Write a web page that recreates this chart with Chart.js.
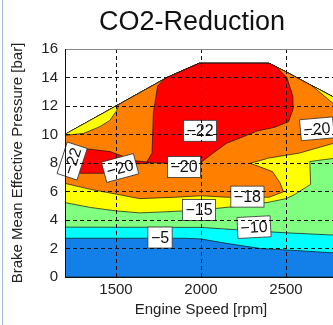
<!DOCTYPE html>
<html>
<head>
<meta charset="utf-8">
<script src="https://cdn.jsdelivr.net/npm/chart.js@4/dist/chart.umd.min.js"></script>
<style>
  html, body { margin: 0; padding: 0; background: #fff; overflow: hidden; }
  #wrap { position: relative; width: 337px; height: 325px; }
  #title { position: absolute; left: 0; top: 6px; width: 384px; text-align: center;
           font: 27px "Liberation Sans", Arial, sans-serif; color: #111; line-height: 30px; }
  #edge { position: absolute; left: 2px; top: 0; width: 1px; height: 325px; background: #9dbde3; }
</style>
</head>
<body>
<div id="wrap">
  <canvas id="chart" width="337" height="325"></canvas>
  <div id="title">CO2-Reduction</div>
  <div id="edge"></div>
</div>
<script>
// axis ticks
const xTicks = [1500, 2000, 2500];
const yTicks = [0, 2, 4, 6, 8, 10, 12, 14, 16];

// full load line (rpm, bar)
const envelope = [[1200, 10.0], [1500, 12.0], [1800, 14.0], [1990, 15.0], [2400, 15.0], [2500, 14.4], [2640, 13.5], [2800, 12.5]];

// upper edge of each band
const blueTop = [[1200, 2.72], [1900, 2.72], [2000, 2.67], [2150, 2.36], [2350, 2.0], [2500, 1.9], [2800, 1.68]];
const cyanTop = [[1200, 3.5], [2000, 3.48], [2230, 3.3], [2500, 3.1], [2800, 2.93]];
const greenTop = [[1200, 5.22], [1350, 4.88], [1500, 4.64], [1640, 4.5], [1800, 4.58], [2000, 4.7], [2200, 4.95],
                  [2400, 5.25], [2500, 5.5], [2545, 5.75], [2645, 6.5], [2640, 8.1], [2700, 8.2], [2800, 8.35]];
const yellowTop = [[1200, 6.57], [1350, 6.15], [1500, 5.82], [1640, 5.5], [1850, 5.6], [2000, 5.7], [2150, 5.6],
                   [2400, 5.6], [2485, 5.98], [2465, 6.6], [2420, 7.4], [2290, 7.98], [2400, 8.35], [2580, 8.7], [2800, 9.45]];

// closed patches on top
const yellowLeft = [[1200, 10.02], [1500, 12.0], [1515, 12.1], [1505, 11.7], [1465, 11.0], [1405, 10.55], [1310, 10.08], [1200, 9.93]];
const yellowRight = [[2650, 13.45], [2800, 12.5], [2800, 11.95]];
const redMain = [[1680, 8.05], [1712, 8.7], [1720, 11.5], [1745, 13.4], [1785, 13.9], [1800, 14.0], [1990, 15.0], [2400, 15.0],
                 [2440, 14.78], [2505, 14.0], [2540, 12.7], [2542, 11.8], [2515, 10.9], [2430, 10.5], [2330, 10.25],
                 [2250, 9.85], [2150, 9.38], [2070, 8.68], [1995, 8.0], [1760, 8.0]];
const redLeft = [[1255, 9.05], [1290, 9.05], [1465, 8.8], [1545, 8.45], [1620, 8.15], [1690, 8.06], [1690, 7.98],
                 [1600, 7.93], [1540, 7.75], [1480, 7.4], [1425, 7.28], [1290, 7.28], [1255, 7.4]];

// contour labels
const labelText = ['\u221222', '\u221220', '\u221222', '\u221220', '\u221220', '\u221218', '\u221215', '\u221210', '\u22125'];
const labelRpm = [1242, 1524, 1994, 1900, 2682, 2273, 1988, 2312, 1759];
const labelBar = [8.14, 7.65, 10.26, 7.72, 10.4, 5.64, 4.7, 3.5, 2.77];
const labelAngle = [-72, -15, 0, 0, -5, 0, 0, -3, 0];

const FONT = '"Liberation Sans", Arial, sans-serif';

function above(curve) {
    // band from a curve up to the full load line
    return curve.concat(envelope.slice().reverse());
}

function pts(list) {
    const p = list.map(([x, y]) => ({ x, y }));
    p.push({ x: list[0][0], y: list[0][1] });
    return p;
}

const layers = [
    { pts: [[1200, 0]].concat(envelope, [[2800, 0]]), color: '#1380ea' },
    { pts: above(blueTop), color: '#00ffff' },
    { pts: above(cyanTop), color: '#80ff80' },
    { pts: above(greenTop), color: '#ffff00' },
    { pts: above(yellowTop), color: '#ff8000' },
    { pts: yellowLeft, color: '#ffff00' },
    { pts: yellowRight, color: '#ffff00' },
    { pts: redMain, color: '#ff0000' },
    { pts: redLeft, color: '#ff0000' }
];

const datasets = layers.map((l, i) => ({
    data: pts(l.pts),
    showLine: true,
    fill: 'shape',
    backgroundColor: l.color,
    borderColor: '#111',
    borderWidth: 0.7,
    pointRadius: 0,
    tension: 0,
    order: layers.length - i
}));

const labelPlugin = {
    id: 'contourLabels',
    afterDatasetsDraw(chart) {
        const { ctx, scales: { x, y } } = chart;
        ctx.save();
        ctx.font = '16px ' + FONT;
        labelText.forEach((t, i) => {
            const px = x.getPixelForValue(labelRpm[i]);
            const py = y.getPixelForValue(labelBar[i]);
            const w = ctx.measureText(t).width + 6, h = 21;
            ctx.save();
            ctx.translate(px, py);
            ctx.rotate(labelAngle[i] * Math.PI / 180);
            ctx.fillStyle = '#fff';
            ctx.fillRect(-w / 2, -h / 2, w, h);
            ctx.strokeStyle = '#333';
            ctx.lineWidth = 0.8;
            ctx.strokeRect(-w / 2, -h / 2, w, h);
            ctx.fillStyle = '#111';
            ctx.textAlign = 'center';
            ctx.textBaseline = 'middle';
            ctx.fillText(t, 0, 1);
            ctx.restore();
        });
        ctx.restore();
    }
};

const isTop = c => c.tick && c.tick.value === 16;

new Chart(document.getElementById('chart'), {
    type: 'scatter',
    data: { datasets },
    plugins: [labelPlugin],
    options: {
        responsive: false,
        animation: false,
        events: [],
        layout: { padding: { top: 49, right: 0, bottom: 0, left: 0 } },
        plugins: { legend: { display: false }, tooltip: { enabled: false } },
        scales: {
            x: {
                type: 'linear', min: 1200, max: 2800,
                afterBuildTicks: a => { a.ticks = xTicks.map(v => ({ value: v })); },
                afterFit: s => { s.height = 48; },
                grid: { color: '#111', lineWidth: 1, drawTicks: false, z: 1 },
                border: { color: '#111', width: 1, dash: [4, 3], z: 2 },
                ticks: { padding: 4, color: '#222', font: { family: FONT, size: 15 }, callback: v => String(v), z: 2 },
                title: { display: true, text: 'Engine Speed [rpm]', color: '#222',
                         font: { family: FONT, size: 15 }, padding: { top: 0, bottom: 6 } }
            },
            y: {
                min: 0, max: 16,
                afterBuildTicks: a => { a.ticks = yTicks.map(v => ({ value: v })); },
                afterFit: s => { s.width = 65; },
                grid: { color: c => isTop(c) ? '#888' : '#111', lineWidth: 1, drawTicks: false, z: 1 },
                border: { color: '#111', width: 1, dash: c => isTop(c) ? [] : [4, 3], z: 2 },
                ticks: { padding: 7, color: '#222', font: { family: FONT, size: 15 }, callback: v => String(v), z: 2 },
                title: { display: true, text: 'Brake Mean Effective Pressure [bar]', color: '#222',
                         font: { family: FONT, size: 15 }, padding: { top: 9, bottom: 0 } }
            }
        }
    }
});
</script>
</body>
</html>
